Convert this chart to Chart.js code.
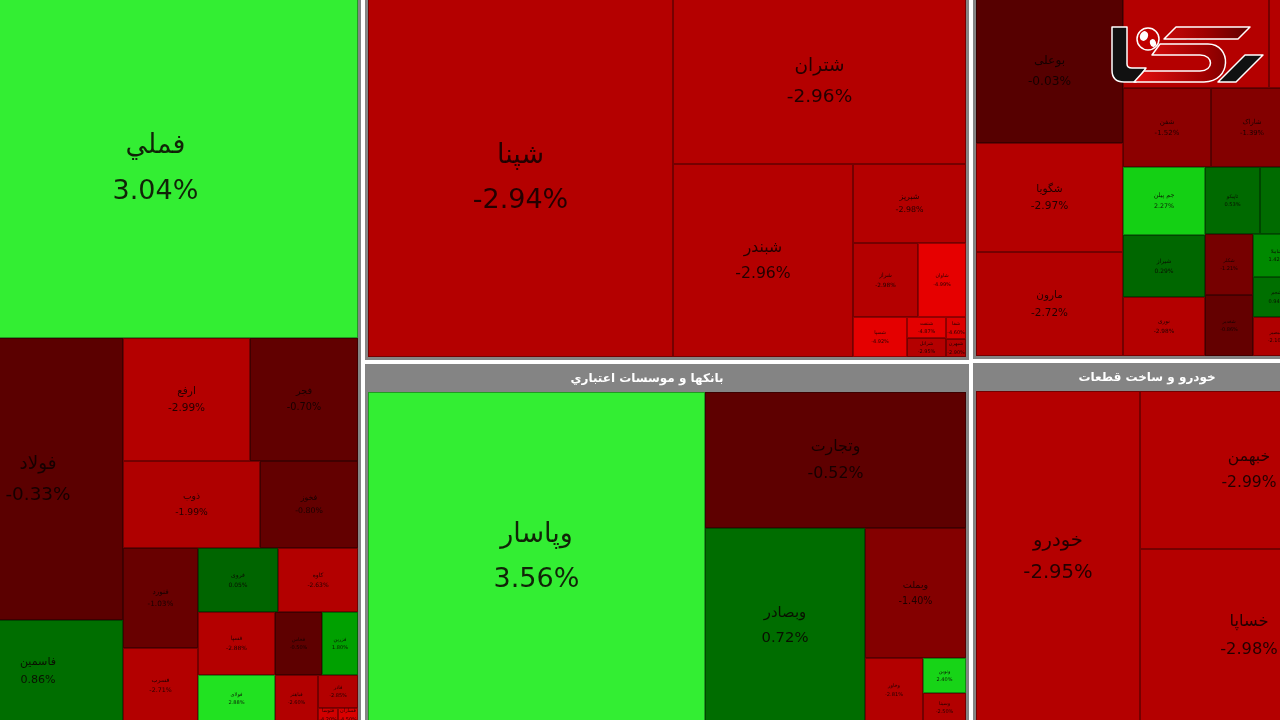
<!DOCTYPE html>
<html>
<head>
<meta charset="utf-8">
<script src="https://cdn.jsdelivr.net/npm/chart.js@4.4.1/dist/chart.umd.min.js"></script>
<style>
  html, body { margin: 0; padding: 0; background: #fff; overflow: hidden; }
  canvas { display: block; }
</style>
</head>
<body>
<canvas id="map" width="1280" height="720"></canvas>
<script>
// --- data (value = size weight of each symbol, change = daily % change) ---
const metalsTitle = "فلزات اساسي";
const metalsSymbols = ["فملي", "فولاد", "فاسمين", "ارفع", "فجر", "ذوب", "فخوز", "فنورد", "فسرب", "فروی", "کاوه", "فسپا", "فولای", "فخاس", "فزرین", "فباهنر", "فاذر", "فتوسا", "فسازان"];
const metalsChanges = [3.04, -0.33, 0.86, -2.99, -0.70, -1.99, -0.80, -1.03, -2.71, 0.05, -2.63, -2.88, 2.88, -0.50, 1.80, -2.60, -2.85, -4.20, -4.50];
const metalsValues  = [147.5, 51.5, 18.6, 16.8, 14.3, 12.8, 9.2, 8.1, 6.0, 5.5, 5.5, 5.2, 3.9, 3.2, 2.4, 2.2, 1.4, 0.3, 0.3];

const refineryTitle = "فراورده هاي نفتي، كك و سوخت هسته اي";
const refinerySymbols = ["شپنا", "شتران", "شبندر", "شبریز", "شراز", "شاوان", "شسپا", "شنفت", "شرانل", "شفا", "شبهرن"];
const refineryChanges = [-2.94, -2.96, -2.96, -2.98, -2.98, -4.99, -4.92, -4.87, -2.95, -4.60, -2.90];
const refineryValues  = [121.9, 54.0, 39.0, 10.0, 5.3, 4.0, 2.4, 0.9, 0.8, 0.5, 0.4];

const banksTitle = "بانکها و موسسات اعتباري";
const banksSymbols = ["وپاسار", "وتجارت", "وبصادر", "وبملت", "وخاور", "ونوین", "وسینا"];
const banksChanges = [3.56, -0.52, 0.72, -1.40, -2.81, 2.40, -2.50];
const banksValues  = [125.1, 39.9, 34.9, 14.8, 4.2, 1.7, 1.4];

const chemTitle = "محصولات شيميايي";
const chemSymbols = ["بوعلی", "شگویا", "مارون", "پارس", "شپدیس", "شفن", "شاراک", "شخارک", "جم پیلن", "شیراز", "نوری", "تاپیکو", "شتوکا", "پترول", "شکلر", "شغدیر", "شاملا", "شجم", "شبصیر", "شلعاب"];
const chemChanges = [-0.03, -2.97, -2.72, -2.93, -2.91, -1.52, -1.39, -1.10, 2.27, 0.29, -2.98, 0.53, 0.61, -0.40, -1.21, -0.86, 1.42, 0.94, -2.10, -1.80];
const chemValues  = [23.9, 18.1, 17.2, 14.6, 8.9, 7.8, 7.3, 5.8, 6.3, 5.7, 5.5, 4.2, 4.5, 2.9, 3.3, 3.3, 2.3, 2.1, 2.1, 8.0];

const autoTitle = "خودرو و ساخت قطعات";
const autoSymbols = ["خودرو", "خبهمن", "خساپا"];
const autoChanges = [-2.95, -2.99, -2.98];
const autoValues  = [61.6, 39.1, 42.8];

// --- nesting of the map: 'h' = side by side, 'v' = stacked; numbers are symbol indices ---
function sector(title, symbols, changes, values, tree) {
  return { title, tree, cells: symbols.map((s, i) => ({ sym: s, chg: changes[i], val: values[i] })) };
}
const metals = sector(metalsTitle, metalsSymbols, metalsChanges, metalsValues,
  ["v", 0, ["h", ["v", 1, 2], ["v", ["h", 3, 4], ["h", 5, 6],
    ["h", ["v", 7, 8], ["v", ["h", 9, 10], ["h", ["v", 11, 12], ["v", ["h", 13, 14], ["h", 15, ["v", 16, ["h", 17, 18]]]]]]]]]]);
const refinery = sector(refineryTitle, refinerySymbols, refineryChanges, refineryValues,
  ["h", 0, ["v", 1, ["h", 2, ["v", 3, ["h", 4, 5], ["h", 6, ["v", 7, 8], ["v", 9, 10]]]]]]);
const banks = sector(banksTitle, banksSymbols, banksChanges, banksValues,
  ["h", 0, ["v", 1, ["h", 2, ["v", 3, ["h", 4, ["v", 5, 6]]]]]]);
const chem = sector(chemTitle, chemSymbols, chemChanges, chemValues,
  ["h", ["v", 0, 1, 2], ["v", ["h", 3, 4], ["h", 5, 6, 7],
    ["h", ["v", 8, 9, 10], ["v", ["h", 11, 12, 13], ["h", ["v", 14, 15], ["v", 16, 17, 18], 19]]]]]);
const auto = sector(autoTitle, autoSymbols, autoChanges, autoValues, ["h", 0, ["v", 1, 2]]);

const market = ["h", metals, ["v", refinery, banks], ["v", chem, auto]];

// the whole map is larger than the visible window (0..1280, 0..720)
const FRAME = { x0: -52, x1: 1363, y0: -31, y1: 727 };
const GAP = 2, BORDER = 3, HEADER = 28;

function weightOf(node, sec) {
  if (typeof node === "number") return sec.cells[node].val;
  if (node.cells) return node.cells.reduce((s, c) => s + c.val, 0);
  return node.slice(1).reduce((s, k) => s + weightOf(k, sec), 0);
}

function splitRect(node, sec, r) {
  const kids = node.slice(1), dir = node[0];
  const w = kids.map(k => weightOf(k, sec));
  const tot = w.reduce((a, b) => a + b, 0);
  const len = dir === "h" ? r.x1 - r.x0 : r.y1 - r.y0;
  let pos = dir === "h" ? r.x0 : r.y0;
  return kids.map((k, i) => {
    const d = len * w[i] / tot;
    const rr = dir === "h" ? { x0: pos, x1: pos + d, y0: r.y0, y1: r.y1 }
                           : { x0: r.x0, x1: r.x1, y0: pos, y1: pos + d };
    pos += d;
    return [k, rr];
  });
}

function layoutCells(node, sec, r, out) {
  if (typeof node === "number") { out.push({ cell: sec.cells[node], r }); return; }
  splitRect(node, sec, r).forEach(([k, rr]) => layoutCells(k, sec, rr, out));
}

function layoutMarket(node, r, out) {
  if (node.cells) {
    const panel = { x0: r.x0 + GAP, x1: r.x1 - GAP, y0: r.y0 + GAP, y1: r.y1 - GAP };
    const inner = { x0: panel.x0 + BORDER, x1: panel.x1 - BORDER, y0: panel.y0 + HEADER, y1: panel.y1 - BORDER };
    const cells = [];
    layoutCells(node.tree, node, inner, cells);
    out.push({ sec: node, panel, cells });
    return;
  }
  splitRect(node, null, r).forEach(([k, rr]) => layoutMarket(k, rr, out));
}

function cellColor(c) {
  const a = Math.abs(c);
  let r = 0, g = 0, b = 0;
  if (c >= 0) {
    if (c < 1) g = 100 + 12 * c;
    else if (c < 2) g = 112 + 60 * (c - 1);
    else if (c < 3) { g = 200 + 30 * (c - 2); r = b = 15 + 20 * (c - 2); }
    else { g = 238; r = b = 51; }
  } else {
    if (a < 1) r = 85 + 17 * a;
    else if (a < 2) r = 102 + 74 * (a - 1);
    else if (a < 3) r = 176 + 4 * (a - 2);
    else r = Math.min(232, 180 + 25 * (a - 3));
  }
  return `rgb(${Math.round(r)},${Math.round(g)},${Math.round(b)})`;
}

const treemapPlugin = {
  id: "treemapCells",
  beforeDatasetsDraw(chart) {
    const ctx = chart.ctx, xs = chart.scales.x, ys = chart.scales.y;
    const X = v => Math.round(xs.getPixelForValue(v));
    const Y = v => Math.round(ys.getPixelForValue(v));
    const panels = [];
    layoutMarket(market, FRAME, panels);

    ctx.save();
    ctx.fillStyle = "#fff";
    ctx.fillRect(0, 0, chart.width, chart.height);

    panels.forEach(p => {
      const px0 = X(p.panel.x0), px1 = X(p.panel.x1), py0 = Y(p.panel.y0), py1 = Y(p.panel.y1);
      ctx.fillStyle = "#848484";
      ctx.fillRect(px0, py0, px1 - px0, py1 - py0);
      ctx.fillStyle = "#fff";
      ctx.font = 'bold 12px "DejaVu Sans"';
      ctx.textAlign = "center";
      ctx.textBaseline = "middle";
      ctx.direction = "rtl";
      ctx.fillText(p.sec.title, (px0 + px1) / 2 - 20, py0 + BORDER + 12);

      p.cells.forEach(({ cell, r }) => {
        const x0 = X(r.x0), x1 = X(r.x1), y0 = Y(r.y0), y1 = Y(r.y1);
        const w = x1 - x0, h = y1 - y0;
        ctx.fillStyle = cellColor(cell.chg);
        ctx.fillRect(x0, y0, w, h);
        ctx.strokeStyle = "rgba(0,0,0,0.35)";
        ctx.lineWidth = 1;
        ctx.strokeRect(x0 + 0.5, y0 + 0.5, w - 1, h - 1);

        const fs = Math.max(5, Math.min(27, 0.084 * Math.sqrt(w * h)));
        const cx = (x0 + x1) / 2, cy = (y0 + y1) / 2;
        ctx.save();
        ctx.beginPath();
        ctx.rect(x0, y0, w, h);
        ctx.clip();
        ctx.fillStyle = "rgba(10,0,0,0.85)";
        ctx.font = fs.toFixed(1) + 'px "DejaVu Sans"';
        ctx.textAlign = "center";
        ctx.textBaseline = "middle";
        ctx.direction = "rtl";
        ctx.fillText(cell.sym, cx, cy - 0.82 * fs);
        ctx.direction = "ltr";
        ctx.fillText(cell.chg.toFixed(2) + "%", cx, cy + 0.86 * fs);
        ctx.restore();
      });
    });
    ctx.restore();
  },
  afterDraw(chart) {
    // news site watermark in the top right corner
    const ctx = chart.ctx;
    ctx.save();
    ctx.lineJoin = "round";
    ctx.strokeStyle = "#fff";
    ctx.lineWidth = 1.5;

    ctx.beginPath();
    ctx.moveTo(1112, 27); ctx.lineTo(1127, 27); ctx.lineTo(1127, 64);
    ctx.quadraticCurveTo(1127, 68, 1132, 68); ctx.lineTo(1146, 68);
    ctx.lineTo(1136, 82); ctx.lineTo(1124, 82);
    ctx.quadraticCurveTo(1112, 82, 1112, 70); ctx.closePath();
    ctx.fillStyle = "#111"; ctx.fill(); ctx.stroke();

    const grad = ctx.createLinearGradient(1135, 0, 1250, 0);
    grad.addColorStop(0, "#e01010");
    grad.addColorStop(0.6, "#a00000");
    grad.addColorStop(1, "#600000");
    ctx.beginPath();
    ctx.moveTo(1176, 27); ctx.lineTo(1250, 27); ctx.lineTo(1238, 39); ctx.lineTo(1164, 39); ctx.closePath();
    ctx.fillStyle = grad; ctx.fill(); ctx.stroke();

    ctx.beginPath();
    ctx.moveTo(1160, 44); ctx.lineTo(1208, 44);
    ctx.bezierCurveTo(1232, 44, 1232, 82, 1204, 82);
    ctx.lineTo(1134, 82); ctx.lineTo(1144, 71); ctx.lineTo(1200, 71);
    ctx.bezierCurveTo(1214, 71, 1214, 55, 1200, 55);
    ctx.lineTo(1152, 55); ctx.closePath();
    ctx.fillStyle = grad; ctx.fill(); ctx.stroke();

    ctx.beginPath();
    ctx.moveTo(1218, 82); ctx.lineTo(1236, 82); ctx.lineTo(1263, 55); ctx.lineTo(1245, 55); ctx.closePath();
    ctx.fillStyle = "#111"; ctx.fill(); ctx.stroke();

    ctx.beginPath();
    ctx.arc(1148, 39, 11, 0, Math.PI * 2);
    ctx.fillStyle = "#c00000"; ctx.fill(); ctx.stroke();
    ctx.fillStyle = "#fff";
    ctx.beginPath(); ctx.ellipse(1144, 36, 4, 5, 0.4, 0, Math.PI * 2); ctx.fill();
    ctx.beginPath(); ctx.ellipse(1153, 43, 3, 4, -0.3, 0, Math.PI * 2); ctx.fill();
    ctx.restore();
  }
};

new Chart(document.getElementById("map"), {
  type: "scatter",
  data: { datasets: [{ data: [], pointRadius: 0 }] },
  options: {
    responsive: false,
    animation: false,
    devicePixelRatio: 1,
    events: [],
    layout: { padding: 0 },
    plugins: { legend: { display: false }, tooltip: { enabled: false } },
    scales: {
      x: { type: "linear", min: 0, max: 1280, display: false },
      y: { type: "linear", min: 0, max: 720, reverse: true, display: false }
    }
  },
  plugins: [treemapPlugin]
});
</script>
</body>
</html>
